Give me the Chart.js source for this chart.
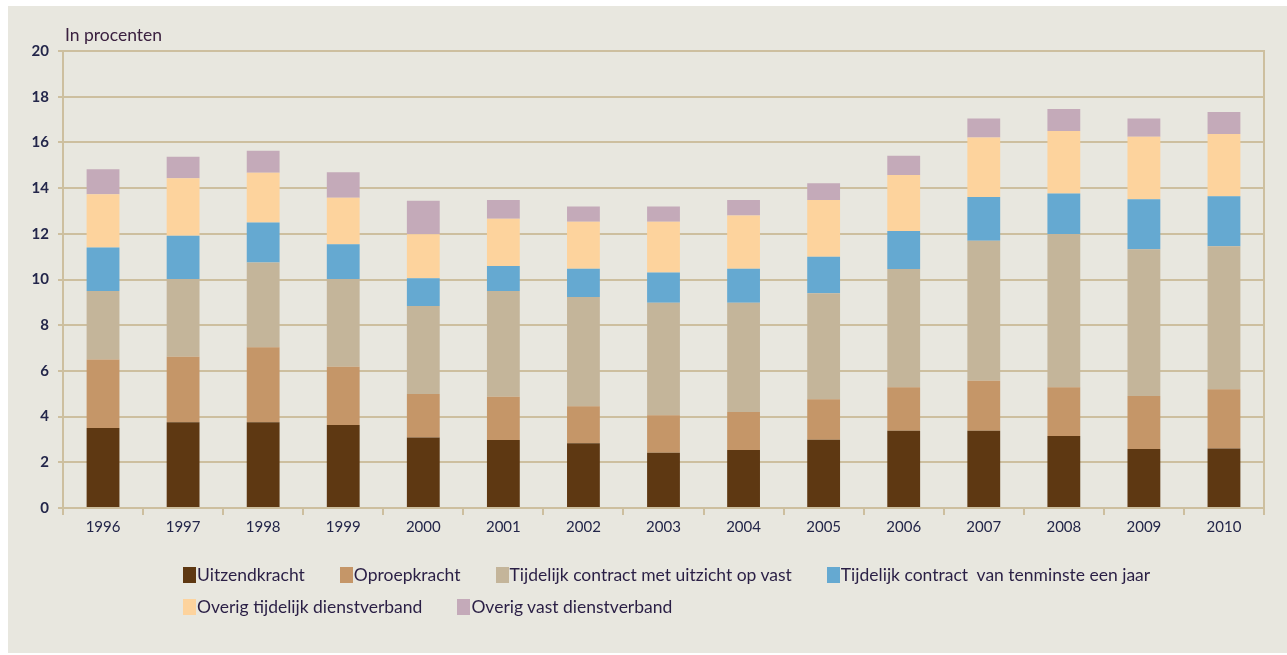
<!DOCTYPE html>
<html>
<head>
<meta charset="utf-8">
<script src="https://cdn.jsdelivr.net/npm/chart.js@4/dist/chart.umd.min.js"></script>
<style>
  html, body { margin: 0; padding: 0; background: #ffffff; }
  body { width: 1287px; height: 655px; position: relative; overflow: hidden; font-family: Lato, "Open Sans", sans-serif; }
  #panel { position: absolute; left: 8px; top: 6px; right: 0; bottom: 2px; background: #e8e7df; }
  #wrap { position: absolute; left: 0; top: 0; width: 1287px; height: 655px; }
  #legend { position: absolute; left: 183px; top: 565px; width: 1010px; display: flex; flex-wrap: wrap; column-gap: 35px; row-gap: 12px; }
  .item { display: flex; align-items: center; font-size: 17.5px; color: #2a1f45; line-height: 20px; }
  .box { width: 13px; height: 16px; margin-right: 1px; }
</style>
</head>
<body>
<div id="panel"></div>
<div id="wrap"><canvas id="chart"></canvas></div>
<div id="legend"></div>
<script>
// Data
const years = ["1996", "1997", "1998", "1999", "2000", "2001", "2002", "2003", "2004", "2005", "2006", "2007", "2008", "2009", "2010"]
const uitzendkracht = [3.5, 3.75, 3.75, 3.63, 3.09, 2.98, 2.83, 2.42, 2.54, 2.99, 3.38, 3.38, 3.15, 2.58, 2.6]
const oproepkracht = [3.0, 2.87, 3.28, 2.55, 1.9, 1.89, 1.62, 1.64, 1.66, 1.77, 1.9, 2.19, 2.13, 2.32, 2.6]
const uitzichtOpVast = [3.0, 3.4, 3.71, 3.84, 3.85, 4.63, 4.78, 4.92, 4.78, 4.64, 5.18, 6.13, 6.71, 6.42, 6.25]
const minstensEenJaar = [1.9, 1.9, 1.76, 1.52, 1.21, 1.09, 1.24, 1.33, 1.49, 1.6, 1.66, 1.91, 1.77, 2.19, 2.19]
const overigTijdelijk = [2.33, 2.51, 2.17, 2.04, 1.93, 2.07, 2.06, 2.22, 2.33, 2.48, 2.45, 2.6, 2.74, 2.74, 2.73]
const overigVast = [1.1, 0.94, 0.97, 1.11, 1.47, 0.82, 0.67, 0.67, 0.68, 0.73, 0.85, 0.84, 0.96, 0.8, 0.96]

const seriesNames = [
  "Uitzendkracht",
  "Oproepkracht",
  "Tijdelijk contract met uitzicht op vast",
  "Tijdelijk contract  van tenminste een jaar",
  "Overig tijdelijk dienstverband",
  "Overig vast dienstverband",
]
const seriesData = [uitzendkracht, oproepkracht, uitzichtOpVast, minstensEenJaar, overigTijdelijk, overigVast]
const seriesColors = ["#5e3812", "#c59668", "#c4b59a", "#65a9d1", "#fdd39d", "#c4aab9"]

const gridColor = "#cdbf9f"
const tickColor = "#23264a"

// Y axis title drawn above the plot
const yTitlePlugin = {
  id: "yTitle",
  afterDraw(chart) {
    const { ctx, chartArea } = chart
    ctx.save()
    ctx.font = "17.5px Lato"
    ctx.fillStyle = "#3b2140"
    ctx.textAlign = "left"
    ctx.textBaseline = "middle"
    ctx.fillText("In procenten", chartArea.left + 2, chartArea.top - 16)
    ctx.restore()
  },
}

const ctx = document.getElementById("chart").getContext("2d")

new Chart(ctx, {
  type: "bar",
  data: {
    labels: years,
    datasets: seriesNames.map((name, i) => ({
      label: name,
      data: seriesData[i],
      backgroundColor: seriesColors[i],
      borderWidth: 0,
      barPercentage: 0.41,
      categoryPercentage: 1,
    })),
  },
  options: {
    responsive: true,
    maintainAspectRatio: false,
    animation: false,
    layout: { padding: { top: 51, right: 23, bottom: 0, left: 0 } },
    plugins: {
      legend: { display: false },
      tooltip: { enabled: false },
    },
    scales: {
      x: {
        stacked: true,
        offset: true,
        grid: { drawOnChartArea: false, drawTicks: true, tickLength: 7, color: gridColor, lineWidth: 2, offset: true },
        border: { color: gridColor, width: 2 },
        ticks: { color: tickColor, font: { family: "Lato", size: 15 }, padding: 3, maxRotation: 0 },
        afterFit: (scale) => { scale.height = 147 },
      },
      y: {
        stacked: true,
        min: 0,
        max: 20,
        ticks: { stepSize: 2, color: tickColor, font: { family: "Lato", size: 15, weight: "bold" }, padding: 9 },
        grid: { color: gridColor, lineWidth: 2, tickLength: 5 },
        border: { color: gridColor, width: 2 },
        afterFit: (scale) => { scale.width = 63 },
      },
      yRight: {
        position: "right",
        min: 0,
        max: 20,
        ticks: { display: false },
        grid: { drawOnChartArea: false, drawTicks: false },
        border: { color: gridColor, width: 2 },
        afterFit: (scale) => { scale.width = 0 },
      },
    },
  },
  plugins: [yTitlePlugin],
})

// Legend
const legendEl = document.getElementById("legend")
seriesNames.forEach((name, i) => {
  const item = document.createElement("div")
  item.className = "item"
  item.innerHTML = `<span class="box" style="background:${seriesColors[i]}"></span><span>${name.replace(/  /g, " &nbsp;")}</span>`
  legendEl.appendChild(item)
})
</script>
</body>
</html>
